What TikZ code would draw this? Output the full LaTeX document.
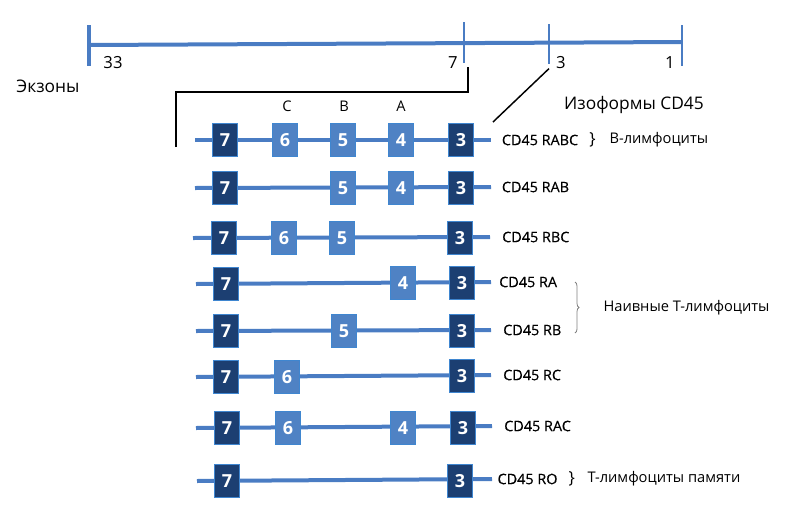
\documentclass[tikz,border=0pt]{standalone}
\usepackage{fontspec}
\setmainfont{Open Sans}
\newfontfamily\isofont[FakeBold=0.35]{Open Sans}
\usetikzlibrary{positioning,decorations.pathreplacing}

\definecolor{strandblue}{HTML}{4A7CC3}
\definecolor{exdark}{HTML}{1C3F72}
\definecolor{exlight}{HTML}{4F82C4}
\definecolor{exedge}{HTML}{3F86D0}

\tikzset{
  strand/.style={line width=3pt, strandblue},
  tick/.style={fill=strandblue, inner sep=0pt, minimum width=1.6pt, minimum height=30.5pt},
  exon/.style={draw=exedge, line width=0.7pt, inner sep=0pt, minimum width=18.5pt,
    minimum height=24.5pt, text=white, font=\fontsize{13.5}{13.5}\selectfont\bfseries},
  dark/.style={exon, fill=exdark},
  light/.style={exon, fill=exlight},
  iso/.style={font=\isofont\fontsize{10.8}{12}\selectfont, inner sep=1pt},
  bracechar/.style={font=\fontsize{12.5}{13}\selectfont, inner sep=1pt},
  cell/.style={font=\fontsize{11}{13}\selectfont, inner sep=1pt},
  lbl/.style={font=\fontsize{12.5}{14}\selectfont, inner sep=0pt},
}

\begin{document}
\begin{tikzpicture}[x=0.75pt,y=-0.75pt]
\useasboundingbox (0,0) rectangle (794,522);

% exon map
\coordinate (g33) at (88,45);
\coordinate (g1) at (682,42);
\draw[strand] (g33) -- (g1);
\node[tick, minimum width=3.5pt] (t33) at (89,45.5) {};
\node[tick] (t7) at (464,42.5) {};
\node[tick] (t3) at (549,44) {};
\node[tick] (t1) at (682,45.5) {};
\node[lbl] (n33) at (113,63) {33};
\node[lbl] (n7) at (453,63) {7};
\node[lbl] (n3) at (561,63) {3};
\node[lbl] (n1) at (670,63) {1};
\node[lbl, font=\fontsize{13}{15}\selectfont] (exons) at (48,86) {Экзоны};

% zoom lines
\coordinate (zl) at (176,147);
\coordinate (zr) at (493,122);
\draw[line width=1.1pt] (zl) |- (468,92) -- (468,67);
\draw[line width=1.1pt] (t3.south) ++(0,4) -- (zr);
\node[lbl, font=\fontsize{13}{15}\selectfont] (title) at (634,105) {Изоформы CD45};
\node[lbl, font=\fontsize{11}{13}\selectfont] (lc) at (287,106) {C};
\node[lbl, font=\fontsize{11}{13}\selectfont] (lb) at (344,106) {B};
\node[lbl, font=\fontsize{11}{13}\selectfont] (la) at (401,106) {A};

% isoforms
\coordinate (r1s) at (195,140); \coordinate (r1e) at (491,140);
\draw[strand] (r1s) -- (r1e);
\node[dark] (r1x7) at (225,140) {7};
\node[light] (r1x6) at (285,140) {6};
\node[light] (r1x5) at (343,140) {5};
\node[light] (r1x4) at (401,140) {4};
\node[dark] (r1x3) at (461,140) {3};
\node[iso, right=7pt of r1e] (i1) {CD45 RABC};

\coordinate (r2s) at (195,188); \coordinate (r2e) at (491,187);
\draw[strand] (r2s) -- (r2e);
\node[dark] (r2x7) at (225,188) {7};
\node[light] (r2x5) at (343,188) {5};
\node[light] (r2x4) at (401,188) {4};
\node[dark] (r2x3) at (461,188) {3};
\node[iso, right=7pt of r2e] (i2) {CD45 RAB};

\coordinate (r3s) at (193,238); \coordinate (r3e) at (490,237);
\draw[strand] (r3s) -- (r3e);
\node[dark] (r3x7) at (224,238) {7};
\node[light] (r3x6) at (284,238) {6};
\node[light] (r3x5) at (342,238) {5};
\node[dark] (r3x3) at (460,238) {3};
\node[iso, right=8pt of r3e] (i3) {CD45 RBC};

\coordinate (r4s) at (196,284); \coordinate (r4e) at (491,282);
\draw[strand] (r4s) -- (r4e);
\node[dark] (r4x7) at (226,284) {7};
\node[light] (r4x4) at (403,283) {4};
\node[dark] (r4x3) at (462,283) {3};
\node[iso, right=5pt of r4e] (i4) {CD45 RA};

\coordinate (r5s) at (196,331); \coordinate (r5e) at (491,330);
\draw[strand] (r5s) -- (r5e);
\node[dark] (r5x7) at (226,331) {7};
\node[light] (r5x5) at (344,331) {5};
\node[dark] (r5x3) at (462,331) {3};
\node[iso, right=8pt of r5e] (i5) {CD45 RB};

\coordinate (r6s) at (196,377); \coordinate (r6e) at (491,375);
\draw[strand] (r6s) -- (r6e);
\node[dark] (r6x7) at (226,377) {7};
\node[light] (r6x6) at (287,377) {6};
\node[dark] (r6x3) at (462,376) {3};
\node[iso, right=8pt of r6e] (i6) {CD45 RC};

\coordinate (r7s) at (196,428); \coordinate (r7e) at (492,426);
\draw[strand] (r7s) -- (r7e);
\node[dark] (r7x7) at (227,428) {7};
\node[light] (r7x6) at (288,428) {6};
\node[light] (r7x4) at (403,428) {4};
\node[dark] (r7x3) at (463,428) {3};
\node[iso, right=8pt of r7e] (i7) {CD45 RAC};

\coordinate (r8s) at (197,481); \coordinate (r8e) at (492,479);
\draw[strand] (r8s) -- (r8e);
\node[dark] (r8x7) at (227,481) {7};
\node[dark] (r8x3) at (460,481) {3};
\node[iso, right=3pt of r8e] (i8) {CD45 RO};

% cell types
\node[bracechar, right=6pt of i1] (b1) {\}};
\node[cell, right=8pt of b1] (c1) {В-лимфоциты};
\draw[decorate, decoration={brace, amplitude=3pt}, gray, line width=0.6pt]
  (575,282) -- (575,333);
\node[cell, anchor=west] (c2) at (602,308) {Наивные Т-лимфоциты};
\node[bracechar, right=6pt of i8] (b8) {\}};
\node[cell, right=7pt of b8] (c8) {Т-лимфоциты памяти};
\end{tikzpicture}
\end{document}
